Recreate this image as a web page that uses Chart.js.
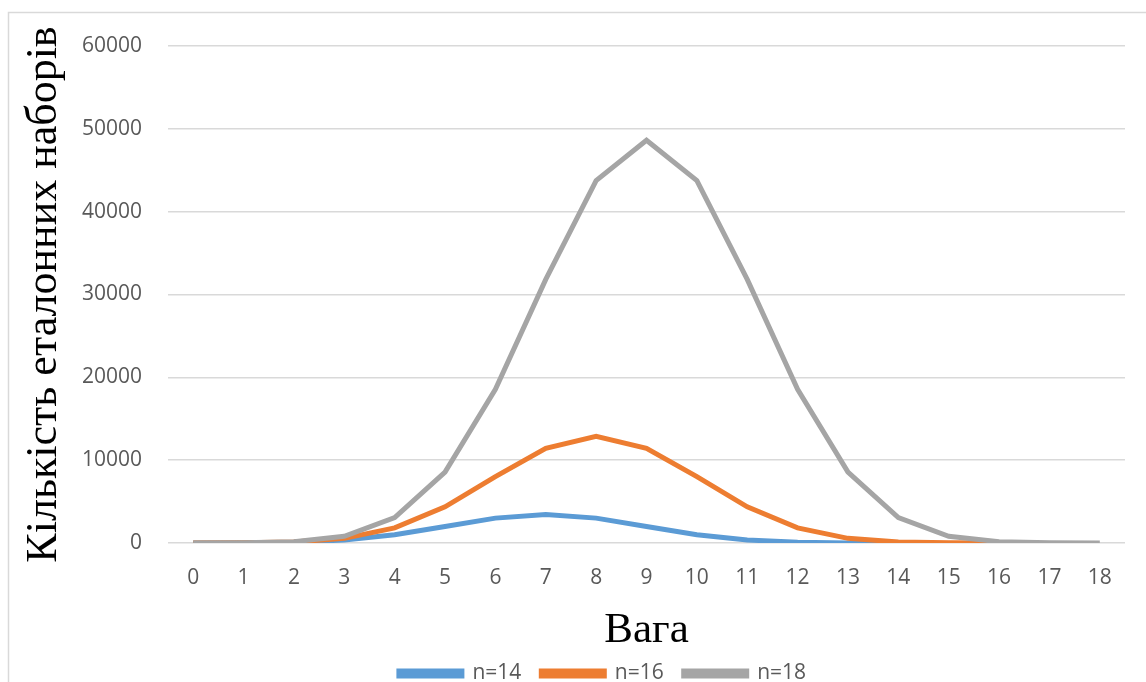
<!DOCTYPE html>
<html>
<head>
<meta charset="utf-8">
<script src="https://cdn.jsdelivr.net/npm/chart.js@4/dist/chart.umd.min.js"></script>
<style>
  html, body { margin: 0; padding: 0; background: #fff; }
  #wrap { width: 1146px; height: 682px; position: relative; }
</style>
</head>
<body>
<div id="wrap"><canvas id="myChart" width="1146" height="682"></canvas></div>
<script>
// дані графіка
let weights = ['0', '1', '2', '3', '4', '5', '6', '7', '8', '9', '10', '11', '12', '13', '14', '15', '16', '17', '18']
let n14 = [1, 14, 91, 364, 1001, 2002, 3003, 3432, 3003, 2002, 1001, 364, 91, 14, 1]
let n16 = [1, 16, 120, 560, 1820, 4368, 8008, 11440, 12870, 11440, 8008, 4368, 1820, 560, 120, 16, 1]
let n18 = [1, 18, 153, 816, 3060, 8568, 18564, 31824, 43758, 48620, 43758, 31824, 18564, 8568, 3060, 816, 153, 18, 1]
let seriesNames = ['n=14', 'n=16', 'n=18']

let cor1 = '#5B9BD5'
let cor2 = '#ED7D31'
let cor3 = '#A5A5A5'
let corTexto = '#595959'
let corGrelha = '#D9D9D9'

// moldura do gráfico (só cima e esquerda visíveis)
const frame = {
    id: 'frame',
    beforeDraw(chart) {
        const c = chart.ctx
        c.save()
        c.strokeStyle = corGrelha
        c.lineWidth = 1.5
        c.beginPath()
        c.moveTo(8.5, 682)
        c.lineTo(8.5, 12.5)
        c.lineTo(1146, 12.5)
        c.stroke()
        c.restore()
    }
}

// a legenda do original está um pouco à direita do centro
const legendShift = {
    id: 'legendShift',
    afterLayout(chart) {
        chart.legend.left += 36
        chart.legend.right += 36
    }
}

const ctx = document.getElementById('myChart').getContext('2d')
let myChart = new Chart(ctx, {
    type: 'line',
    data: {
        labels: weights,
        datasets: [{
            label: seriesNames[0],
            data: n14,
            borderColor: cor1,
            backgroundColor: cor1,
            borderWidth: 5,
            pointRadius: 0,
            order: 2
        }, {
            label: seriesNames[1],
            data: n16,
            borderColor: cor2,
            backgroundColor: cor2,
            borderWidth: 5,
            pointRadius: 0,
            order: 1
        }, {
            label: seriesNames[2],
            data: n18,
            borderColor: cor3,
            backgroundColor: cor3,
            borderWidth: 5,
            pointRadius: 0,
            order: 0
        }]
    },
    options: {
        responsive: false,
        animation: false,
        layout: {
            padding: { top: 46, left: 8, right: 21, bottom: -12 }
        },
        plugins: {
            tooltip: { enabled: false },
            legend: {
                position: 'bottom',
                labels: {
                    color: corTexto,
                    font: { family: 'Open Sans', size: 21 },
                    boxWidth: 63,
                    boxHeight: 5,
                    padding: 20,
                    sort: function (a, b) { return a.datasetIndex - b.datasetIndex }
                }
            }
        },
        scales: {
            x: {
                offset: true,
                grid: { display: false },
                border: { display: false },
                ticks: {
                    color: corTexto,
                    font: { family: 'Open Sans', size: 21 },
                    padding: 14,
                    maxRotation: 0,
                    autoSkip: false
                },
                title: {
                    display: true,
                    text: 'Вага',
                    color: '#000',
                    font: { family: 'Liberation Serif', size: 43 },
                    padding: { top: 0, bottom: -14 }
                },
                afterFit: function (scale) {
                    scale.height = 100
                }
            },
            y: {
                min: 0,
                max: 60000,
                grid: { color: corGrelha, lineWidth: 1.5, drawTicks: false },
                border: { display: false },
                ticks: {
                    stepSize: 10000,
                    color: corTexto,
                    font: { family: 'Open Sans', size: 21 },
                    padding: 26,
                    callback: function (v) { return String(v) }
                },
                title: {
                    display: true,
                    text: 'Кількість еталонних наборів',
                    color: '#000',
                    font: { family: 'Liberation Serif', size: 44 },
                    padding: { top: 10, bottom: 0 }
                },
                afterFit: function (scale) {
                    scale.width = 160
                }
            }
        }
    },
    plugins: [frame, legendShift]
})
</script>
</body>
</html>
